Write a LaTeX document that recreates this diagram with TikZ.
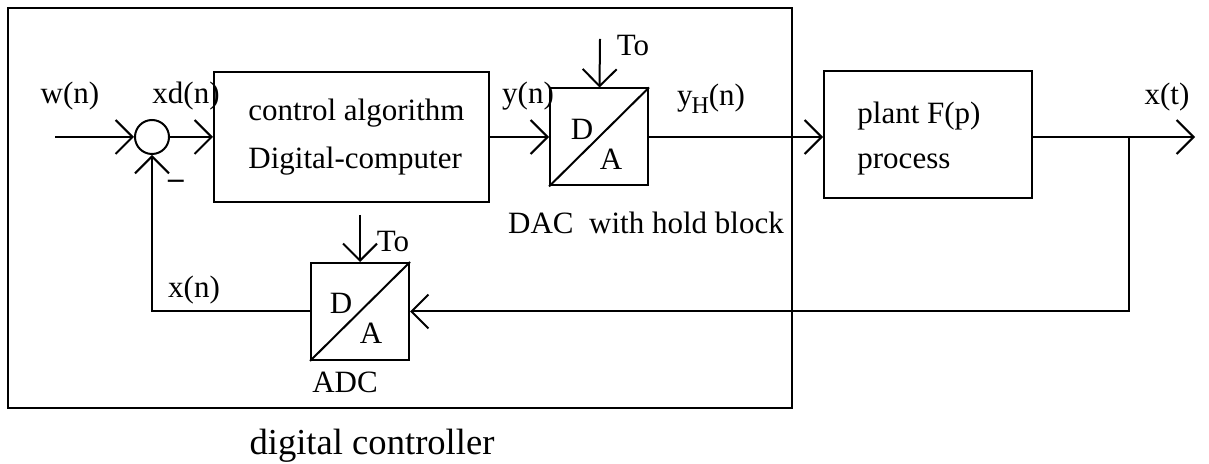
\documentclass[tikz,border=0pt]{standalone}
\usepackage{fontspec}
\setmainfont{Liberation Serif}
\usetikzlibrary{arrows.meta}

\begin{document}
\begin{tikzpicture}[
  x=0.5pt, y=-0.5pt,
  blk/.style={draw, line width=1pt, inner sep=0pt},
  conv/.style={draw, line width=1pt, minimum width=49pt, minimum height=48.5pt,
               inner sep=0pt},
  sumnode/.style={draw, circle, line width=1pt, minimum size=17pt, inner sep=0pt},
  lbl/.style={font=\fontsize{15.5}{18}\selectfont, inner sep=0pt},
  txt/.style={font=\fontsize{15.5}{24}\selectfont, inner sep=0pt, align=left,
              anchor=west},
  ar/.style={-{Straight Barb[length=8.5pt, width=17pt]}, line width=1pt}
]
  \useasboundingbox (0,0) rectangle (1209,464);
  % controller frame
  \draw[line width=1.2pt] (8,8) rectangle (792,408);
  \node[font=\fontsize{18.3}{22}\selectfont] (title) at (372,446) {digital controller};

  \node[sumnode] (sum) at (152,137) {};
  \node[blk, minimum width=137.5pt, minimum height=65pt] (ctrl) at (351.5,137) {};
  \node[txt] (ctrltxt) at (248,137) {control algorithm\\Digital-computer};
  \node[conv] (dac) at (599,137) {};
  \node[blk, minimum width=104pt, minimum height=63.5pt] (plant) at (928,134.5) {};
  \node[txt, font=\fontsize{15.5}{22.5}\selectfont] (planttxt) at (857,139)
    {plant F(p)\\process};
  \node[conv] (adc) at (360,311.5) {};

  % D/A converters
  \draw[line width=1pt] (dac.south west) -- (dac.north east);
  \node[lbl] (dacD) at ([shift={(-17,-8)}]dac.center) {D};
  \node[lbl] (dacA) at ([shift={(12,22)}]dac.center) {A};
  \draw[line width=1pt] (adc.south west) -- (adc.north east);
  \node[lbl] (adcD) at ([shift={(-19,-8)}]adc.center) {D};
  \node[lbl] (adcA) at ([shift={(11,22)}]adc.center) {A};

  \coordinate (win) at (55,137);
  \coordinate (br) at (1129,137);
  \coordinate (xout) at (1195,137);
  \coordinate (todac) at (600,39);
  \coordinate (toadc) at (360,215);

  \draw[ar] (win) -- (sum);
  \draw[ar] (sum) -- (ctrl);
  \draw[ar] (ctrl) -- (dac);
  \draw[ar] (dac) -- (dac -| plant.west);
  \draw[line width=1pt] (plant.east |- br) -- (br);
  \draw[ar] (br) -- (xout);
  \draw[ar] (br) |- (adc);
  \draw[ar] (adc) -| (sum);
  \draw[ar] (todac) -- (dac);
  \draw[ar] (toadc) -- (adc);

  % signal labels
  \node[lbl] (wlbl) at (70,96) {w(n)};
  \node[lbl] (xdlbl) at (186,96) {xd(n)};
  \node[lbl] (minus) at (176,184) {\textbf{–}};
  \node[lbl] (ylbl) at (528,96) {y(n)};
  \node[lbl] (yhlbl) at (711,99)
    {y\kern-0.5pt\raisebox{-4pt}{\fontsize{12}{14}\selectfont H}(n)};
  \node[lbl] (tdac) at (633,46) {To};
  \node[lbl] (dacname) at (646,223) {DAC\ \ with hold block};
  \node[lbl] (xtlbl) at (1167,97) {x(t)};
  \node[lbl] (xnlbl) at (194,290) {x(n)};
  \node[lbl] (tadc) at (393,242) {To};
  \node[lbl] (adcname) at (345,382) {ADC};
\end{tikzpicture}
\end{document}
